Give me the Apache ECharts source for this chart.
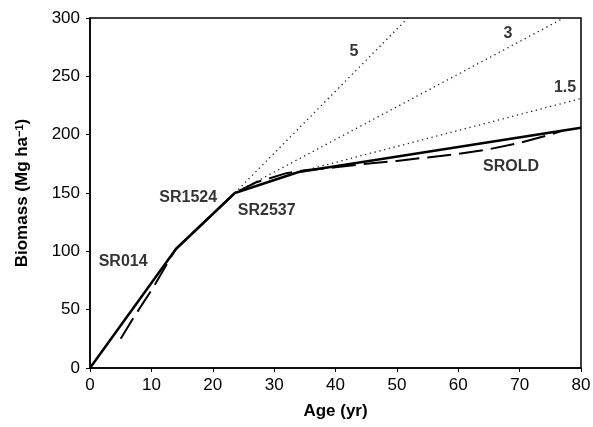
<!DOCTYPE html>
<html>
<head>
<meta charset="utf-8">
<script src="https://cdn.jsdelivr.net/npm/echarts@6/dist/echarts.min.js"></script>
<style>
    html, body { margin: 0; padding: 0; background: #fff; }
    #chart { width: 593px; height: 427px; }
</style>
</head>
<body>
<div id="chart"></div>
<script>
// solid line: fitted segments
var ageSolid = [0, 14, 23.6, 34, 80];
var biomassSolid = [0, 102, 150, 168, 206];

// dashed line: observed curve
var ageDashed = [5, 7.2, 10.3, 12.5, 14, 23.6, 27, 32, 35, 40, 45, 50, 55, 60, 65, 70, 75, 77];
var biomassDashed = [25, 44, 69, 89, 102, 150, 159, 167, 169.5, 172, 175, 177.5, 180.5, 183.5, 187.5, 193, 200, 203.5];

// dotted growth-rate lines
var rateNames = ['5', '3', '1.5'];
var rateStartAge = [23.6, 23.6, 34];
var rateStartBiomass = [150, 150, 168];
var rateEndAge = [51.8, 77.2, 80];
var rateEndBiomass = [300, 300, 231];

// text annotations
var noteText = ['SR014', 'SR1524', 'SR2537', 'SROLD', '5', '3', '1.5'];
var noteAge = [5.4, 16, 28.8, 68.6, 43, 68.1, 77.4];
var noteBiomass = [90.8, 145.7, 134.5, 172.3, 270.8, 286.5, 240];

var xTicks = [0, 80, 10];
var yTicks = [0, 300, 50];

var FONT = '"Liberation Sans", Arial, sans-serif';

function pairs(xs, ys) {
    var out = [];
    for (var i = 0; i < xs.length; i++) {
        out.push([xs[i], ys[i]]);
    }
    return out;
}

function initChart(id) {
    var container = echarts.init(document.getElementById(id));
    var series = [];

    for (var i = 0; i < rateNames.length; i++) {
        series.push({
            name: rateNames[i],
            type: 'line',
            data: [[rateStartAge[i], rateStartBiomass[i]], [rateEndAge[i], rateEndBiomass[i]]],
            symbol: 'none',
            silent: true,
            lineStyle: { color: '#222', width: 1.3, type: [1.3, 3.6] },
            z: 2
        });
    }

    series.push({
        name: 'observed',
        type: 'line',
        data: pairs(ageDashed, biomassDashed),
        symbol: 'none',
        lineStyle: { color: '#000', width: 2, type: [24, 8] },
        z: 3
    });

    series.push({
        name: 'fitted',
        type: 'line',
        data: pairs(ageSolid, biomassSolid),
        symbol: 'none',
        lineStyle: { color: '#000', width: 2.5 },
        z: 4
    });

    var notes = [];
    for (var j = 0; j < noteText.length; j++) {
        notes.push({ value: [noteAge[j], noteBiomass[j]], name: noteText[j] });
    }
    series.push({
        name: 'notes',
        type: 'scatter',
        data: notes,
        symbolSize: 0,
        silent: true,
        itemStyle: { color: '#000' },
        label: {
            show: true,
            position: 'inside',
            formatter: '{b}',
            color: '#000',
            textBorderWidth: 0,
            fontFamily: FONT,
            fontWeight: 'bold',
            fontSize: 16
        },
        z: 5
    });

    var option = {
        animation: false,
        backgroundColor: '#fff',
        grid: {
            left: 90,
            right: 12,
            top: 18,
            bottom: 59,
            show: true,
            borderColor: '#000',
            borderWidth: 1.5,
            containLabel: false,
            outerBoundsMode: 'none'
        },
        xAxis: {
            type: 'value',
            min: xTicks[0],
            max: xTicks[1],
            interval: xTicks[2],
            name: 'Age (yr)',
            nameLocation: 'middle',
            nameGap: 35,
            nameTextStyle: { color: '#000', fontFamily: FONT, fontWeight: 'bold', fontSize: 17 },
            axisLine: { show: true, lineStyle: { color: '#000', width: 1.5 } },
            axisTick: { show: true, inside: false, length: 4, lineStyle: { color: '#000', width: 1 } },
            axisLabel: { color: '#000', fontFamily: FONT, fontSize: 17, margin: 9 },
            splitLine: { show: false }
        },
        yAxis: {
            type: 'value',
            min: yTicks[0],
            max: yTicks[1],
            interval: yTicks[2],
            name: 'Biomass (Mg ha{sup|\u22121})',
            nameLocation: 'middle',
            nameGap: 59,
            nameRotate: 90,
            nameTextStyle: {
                color: '#000',
                fontFamily: FONT,
                fontWeight: 'bold',
                fontSize: 17,
                rich: {
                    sup: { fontFamily: FONT, fontWeight: 'bold', fontSize: 11, color: '#000', verticalAlign: 'top', padding: [0, 0, 6, 0] }
                }
            },
            axisLine: { show: true, lineStyle: { color: '#000', width: 1.5 } },
            axisTick: { show: true, inside: false, length: 4, lineStyle: { color: '#000', width: 1 } },
            axisLabel: { color: '#000', fontFamily: FONT, fontSize: 17, margin: 10 },
            splitLine: { show: false }
        },
        series: series
    };
    container.setOption(option);
}

initChart('chart');
</script>
</body>
</html>
